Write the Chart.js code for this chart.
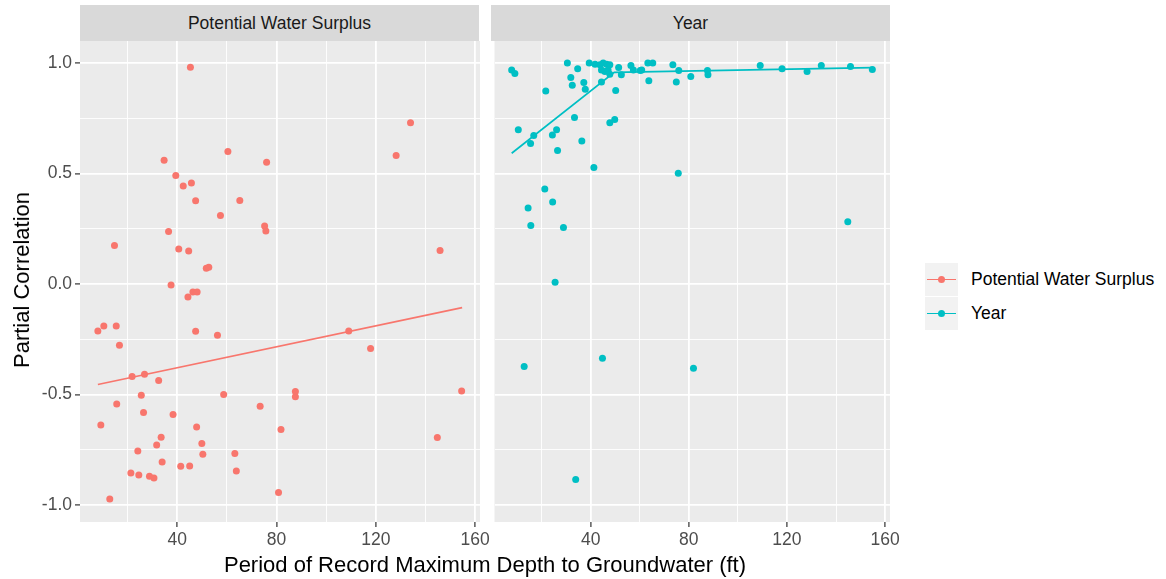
<!DOCTYPE html>
<html>
<head>
<meta charset="utf-8">
<script src="https://cdn.jsdelivr.net/npm/chart.js@4"></script>
<style>
  body { margin: 0; background: #fff; font-family: "Liberation Sans", Arial, sans-serif; }
  #wrap { position: relative; width: 1166px; height: 579px; overflow: hidden; }
  canvas { position: absolute; }
  .strip { position: absolute; top: 5px; height: 36px; background: #D9D9D9; color: #1A1A1A;
           font-size: 17.5px; line-height: 36px; text-align: center; }
  .ttl { position: absolute; color: #000; font-size: 22px; white-space: nowrap; }
  .key { position: absolute; left: 925px; width: 33px; height: 33px; background: #F2F2F2; }
  .key .ln { position: absolute; left: 2px; right: 2px; top: 15.7px; height: 1.7px; }
  .key .dt { position: absolute; left: 13px; top: 13px; width: 7px; height: 7px; border-radius: 50%; }
  .lab { position: absolute; left: 971px; font-size: 17.5px; color: #000; line-height: 33px; }
</style>
</head>
<body>
<div id="wrap">
  <canvas id="left" width="500" height="552" style="left:0;top:27px"></canvas>
  <canvas id="right" width="419" height="552" style="left:491px;top:27px"></canvas>
  <div class="strip" style="left:80px;width:399px">Potential Water Surplus</div>
  <div class="strip" style="left:491px;width:399px">Year</div>
  <div class="ttl" style="left:485px;top:565px;transform:translate(-50%,-50%)">Period of Record Maximum Depth to Groundwater (ft)</div>
  <div class="ttl" style="left:22px;top:280px;transform:translate(-50%,-50%) rotate(-90deg)">Partial Correlation</div>
  <div class="key" style="top:263px"><div class="ln" style="background:#F8766D"></div><div class="dt" style="background:#F8766D"></div></div>
  <div class="lab" style="top:263px">Potential Water Surplus</div>
  <div class="key" style="top:297px"><div class="ln" style="background:#00BFC4"></div><div class="dt" style="background:#00BFC4"></div></div>
  <div class="lab" style="top:297px">Year</div>
</div>
<script>
// Potential Water Surplus panel
const pwsDepth = [45.3, 60.4, 34.7, 76.0, 39.4, 42.4, 45.7, 47.4, 65.2, 57.4, 36.5, 75.2, 75.7, 14.7, 40.6, 44.6,
  51.7, 52.7, 37.5, 44.3, 46.3, 48.0, 8.0, 10.4, 15.4, 16.7, 47.4, 56.2, 21.8, 26.8, 32.5, 25.5, 58.7, 15.6,
  26.4, 38.3, 73.4, 9.2, 47.8, 33.5, 31.7, 49.9, 81.8, 24.1, 50.3, 63.2, 33.9, 41.4, 45.0, 63.8, 21.3, 24.5,
  28.8, 30.6, 12.8, 80.8, 134.0, 128.2, 145.9, 109.1, 117.9, 87.6, 87.6, 154.6, 144.8];
const pwsCorr = [0.980, 0.599, 0.560, 0.551, 0.490, 0.443, 0.457, 0.376, 0.377, 0.310, 0.237, 0.262, 0.240, 0.174, 0.158, 0.149,
  0.071, 0.076, -0.005, -0.059, -0.036, -0.036, -0.213, -0.190, -0.190, -0.277, -0.214, -0.232, -0.419, -0.409, -0.437, -0.504, -0.500, -0.543,
  -0.582, -0.591, -0.553, -0.638, -0.647, -0.694, -0.729, -0.722, -0.659, -0.756, -0.771, -0.767, -0.805, -0.825, -0.824, -0.846, -0.855, -0.864,
  -0.870, -0.878, -0.973, -0.943, 0.729, 0.581, 0.151, -0.213, -0.292, -0.487, -0.510, -0.484, -0.695];
const pwsFitDepth = [8.0, 154.8];
const pwsFitCorr = [-0.455, -0.107];

// Year panel
const yearDepth = [7.8, 9.1, 30.5, 34.7, 31.9, 32.5, 37.2, 37.8, 21.7, 39.4, 41.8, 43.8, 45.1, 46.5, 47.8, 44.4,
  45.8, 47.1, 47.8, 44.4, 50.2, 51.4, 52.5, 56.4, 57.4, 60.2, 60.8, 63.3, 65.3, 63.7, 73.5, 75.9, 74.9, 80.8,
  87.6, 87.8, 109.1, 118.0, 128.2, 134.0, 145.9, 154.8, 33.4, 47.8, 49.8, 10.5, 16.8, 26.1, 24.4, 15.5, 36.4,
  26.5, 41.3, 75.7, 21.3, 24.5, 14.5, 15.6, 28.9, 144.8, 25.5, 12.9, 44.8, 81.9, 33.9];
const yearCorr = [0.968, 0.952, 0.999, 0.973, 0.934, 0.899, 0.911, 0.881, 0.873, 0.999, 0.994, 0.991, 0.999, 0.994, 0.991, 0.968,
  0.961, 0.968, 0.949, 0.914, 0.875, 0.979, 0.946, 0.988, 0.968, 0.966, 0.968, 0.999, 0.999, 0.919, 0.992, 0.966, 0.914, 0.938,
  0.966, 0.946, 0.988, 0.973, 0.961, 0.988, 0.984, 0.970, 0.753, 0.729, 0.744, 0.697, 0.671, 0.697, 0.674, 0.635, 0.647,
  0.604, 0.527, 0.501, 0.430, 0.371, 0.343, 0.264, 0.255, 0.281, 0.008, -0.374, -0.336, -0.381, -0.885];
const yearFitDepth = [7.8, 49.6, 154.8];
const yearFitCorr = [0.591, 0.957, 0.979];

// axes
const xMajorTicks = [40, 80, 120, 160];
const yMajorTicks = [-1.0, -0.5, 0.0, 0.5, 1.0];

const pts = (xs, ys) => xs.map((x, i) => ({ x: x, y: ys[i] }));
const isMajor = (list, v) => list.some(t => Math.abs(t - v) < 1e-9);

const panelBg = {
  id: 'panelBg',
  beforeDraw(chart) {
    const a = chart.chartArea, c = chart.ctx;
    c.save();
    c.fillStyle = '#EBEBEB';
    c.fillRect(a.left, a.top, a.right - a.left, a.bottom - a.top);
    c.restore();
  }
};

function makeChart(id, xs, ys, fx, fy, color, showY) {
  return new Chart(document.getElementById(id), {
    type: 'scatter',
    data: {
      datasets: [
        { type: 'line', data: pts(fx, fy), borderColor: color, borderWidth: 1.7,
          pointRadius: 0, fill: false, tension: 0 },
        { data: pts(xs, ys), backgroundColor: color, borderWidth: 0, pointRadius: 3.5, pointHoverRadius: 3.5 }
      ]
    },
    options: {
      responsive: false,
      animation: false,
      events: [],
      layout: { padding: { left: 0, right: 20, top: 14, bottom: 0 } },
      plugins: { legend: { display: false }, tooltip: { enabled: false } },
      scales: {
        x: {
          type: 'linear', min: 0.8, max: 162,
          afterFit: s => { s.height = 57; },
          border: { display: false },
          grid: {
            color: '#FFFFFF',
            lineWidth: c => isMajor(xMajorTicks, c.tick.value) ? 1.8 : 0.9,
            tickColor: c => isMajor(xMajorTicks, c.tick.value) ? '#333333' : 'rgba(0,0,0,0)',
            tickLength: 5, tickWidth: 1.2
          },
          ticks: {
            stepSize: 20, includeBounds: false, autoSkip: false, maxRotation: 0,
            color: '#4D4D4D', padding: 3,
            font: { family: 'Liberation Sans', size: 17.5 },
            callback: v => isMajor(xMajorTicks, v) ? String(v) : ''
          }
        },
        y: {
          type: 'linear', min: -1.077, max: 1.099,
          afterFit: s => { s.width = showY ? 80 : 0; },
          border: { display: false },
          grid: {
            color: '#FFFFFF',
            lineWidth: c => isMajor(yMajorTicks, c.tick.value) ? 1.8 : 0.9,
            tickColor: c => showY && isMajor(yMajorTicks, c.tick.value) ? '#333333' : 'rgba(0,0,0,0)',
            drawTicks: showY, tickLength: 5, tickWidth: 1.2
          },
          ticks: {
            stepSize: 0.25, includeBounds: false, autoSkip: false, display: showY,
            color: '#4D4D4D', padding: 3,
            font: { family: 'Liberation Sans', size: 17.5 },
            callback: v => isMajor(yMajorTicks, v) ? v.toFixed(1) : ''
          }
        }
      }
    },
    plugins: [panelBg]
  });
}

makeChart('left', pwsDepth, pwsCorr, pwsFitDepth, pwsFitCorr, '#F8766D', true);
makeChart('right', yearDepth, yearCorr, yearFitDepth, yearFitCorr, '#00BFC4', false);
</script>
</body>
</html>
